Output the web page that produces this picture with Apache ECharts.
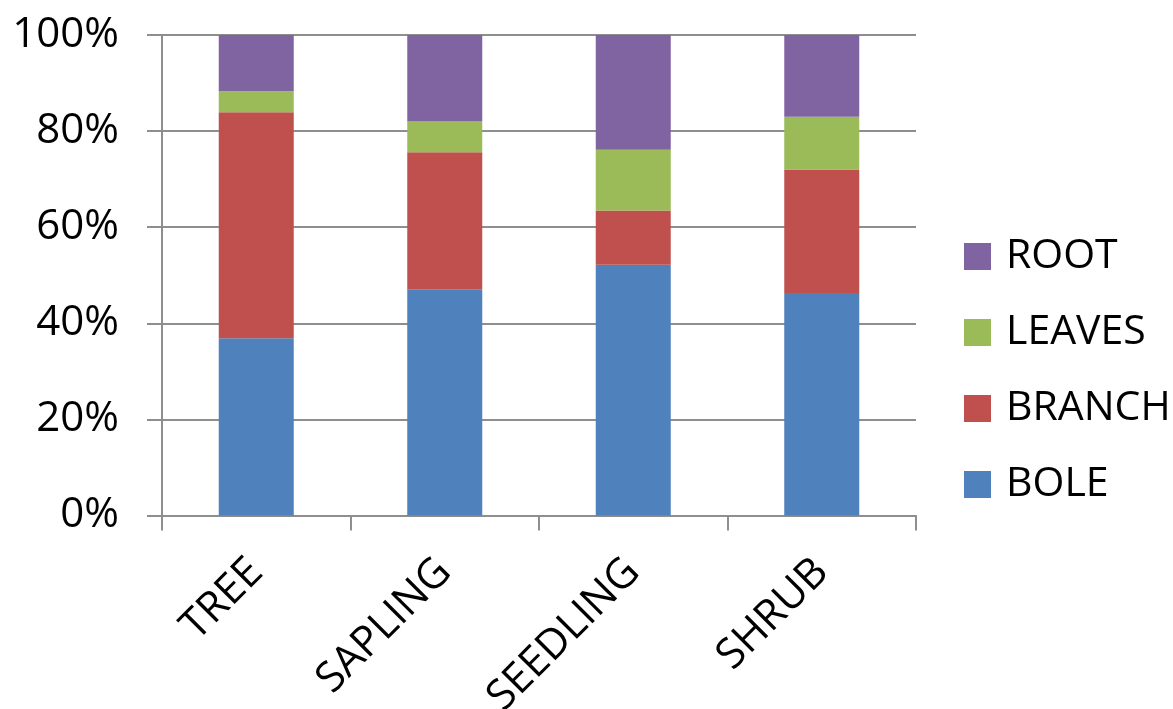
<!DOCTYPE html>
<html>
<head>
<meta charset="utf-8">
<script src="https://cdn.jsdelivr.net/npm/echarts@6/dist/echarts.min.js"></script>
<style>
  html, body { margin: 0; padding: 0; background: #fff; }
  #chart { width: 1173px; height: 709px; }
</style>
</head>
<body>
<div id="chart"></div>
<script>
// Biomass share by plant component (percent of total)
const categories = ['TREE', 'SAPLING', 'SEEDLING', 'SHRUB'];
const bole   = [36.9, 47.1, 52.2, 46.3];
const branch = [47.0, 28.5, 11.3, 25.7];
const leaves = [4.4, 6.4, 12.6, 11.0];
const root   = [11.7, 18.0, 23.9, 17.0];
const yTicks = { min: 0, max: 100, step: 20 };

const FONT = '"Open Sans", "Noto Sans", sans-serif';
const AXIS_GREY = '#8e8e8e';

const chart = echarts.init(document.getElementById('chart'), null, { renderer: 'canvas' });

function seg(name, data, color) {
  return {
    name, type: 'bar', stack: 'total', data,
    barWidth: 75,
    itemStyle: { color },
    emphasis: { disabled: true }
  };
}

chart.setOption({
  animation: false,
  textStyle: { fontFamily: FONT },
  grid: {
    left: 162, right: 257, top: 35, bottom: 193.5,
    containLabel: false,
    outerBoundsMode: 'none'
  },
  legend: {
    orient: 'vertical',
    left: 964,
    top: 236,
    padding: 0,
    itemWidth: 27,
    itemHeight: 27,
    itemGap: 35,
    icon: 'rect',
    data: ['ROOT', 'LEAVES', 'BRANCH', 'BOLE'],
    textStyle: { fontFamily: FONT, fontSize: 41, color: '#000', lineHeight: 39, padding: [0, 0, 0, 10] }
  },
  xAxis: {
    type: 'category',
    data: categories,
    axisLine: { lineStyle: { color: AXIS_GREY, width: 2 } },
    axisTick: { show: true, length: 15, lineStyle: { color: AXIS_GREY, width: 2 } },
    axisLabel: { rotate: 45, margin: 50, fontFamily: FONT, fontSize: 42, color: '#000', interval: 0 }
  },
  yAxis: {
    type: 'value',
    min: yTicks.min, max: yTicks.max, interval: yTicks.step,
    axisLine: { show: true, lineStyle: { color: AXIS_GREY, width: 2 } },
    axisTick: { show: true, length: 15, lineStyle: { color: AXIS_GREY, width: 2 } },
    splitLine: { show: true, lineStyle: { color: AXIS_GREY, width: 2 } },
    axisLabel: { formatter: '{value}%', margin: 43, fontFamily: FONT, fontSize: 42, color: '#000' }
  },
  series: [
    seg('BOLE', bole, '#4F81BD'),
    seg('BRANCH', branch, '#C0504D'),
    seg('LEAVES', leaves, '#9BBB59'),
    seg('ROOT', root, '#8064A2')
  ]
});
</script>
</body>
</html>
